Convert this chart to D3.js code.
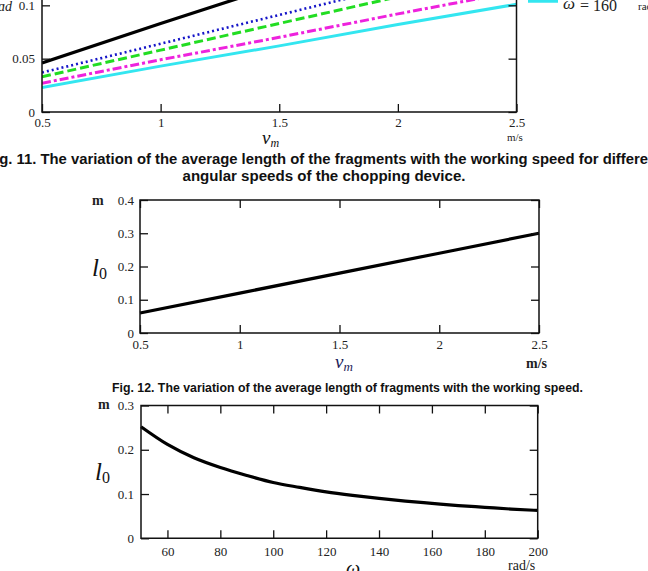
<!DOCTYPE html>
<html>
<head>
<meta charset="utf-8">
<script src="https://cdn.jsdelivr.net/npm/d3@7"></script>
<style>
body { margin: 0; background: #fff; }
svg { display: block; }
.tick text { font-family: "Liberation Serif", serif; font-size: 13px; fill: #222; }
</style>
</head>
<body>
<svg width="648" height="571"></svg>
<script>
// ---- Fig. 11 (top, cropped): average length vs working speed, several angular speeds
const fig11Vm = [0.5, 1, 1.5, 2, 2.5];
const fig11Black = [0.046, 0.083, 0.119, 0.155, 0.191];
const fig11Blue = [0.037, 0.064, 0.091, 0.118, 0.145];
const fig11Green = [0.033, 0.058, 0.083, 0.108, 0.133];
const fig11Magenta = [0.027, 0.049, 0.070, 0.092, 0.113];
const fig11Cyan = [0.023, 0.043, 0.062, 0.082, 0.101];
const fig11XTicks = [0.5, 1, 1.5, 2, 2.5];
const fig11YTicks = [0, 0.05, 0.1];

// ---- Fig. 12: average length vs working speed
const fig12Vm = [0.5, 1, 1.5, 2, 2.5];
const fig12L0 = [0.06, 0.12, 0.18, 0.24, 0.30];
const fig12XTicks = [0.5, 1, 1.5, 2, 2.5];
const fig12YTicks = [0, 0.1, 0.2, 0.3, 0.4];

// ---- Fig. 13: average length vs angular speed
const fig13Omega = [50, 60, 70, 80, 90, 100, 110, 120, 130, 140, 150, 160, 170, 180, 190, 200];
const fig13L0 = [0.252, 0.212, 0.182, 0.160, 0.142, 0.126, 0.115, 0.105, 0.097, 0.090, 0.084, 0.079, 0.074, 0.070, 0.066, 0.063];
const fig13XTicks = [60, 80, 100, 120, 140, 160, 180, 200];
const fig13YTicks = [0, 0.1, 0.2, 0.3];

svg = d3.select("svg");
const serif = '"Liberation Serif", serif';
const sans = '"Liberation Sans", Arial, sans-serif';
const fmt = d => String(d);

// draws the MathCad style box: axes on all sides, ticks pointing inwards
function frame(g, x, y, xt, yt, opts) {
    const [x0, x1] = x.range();
    const [yb, yt0] = y.range();
    g.append("g")
        .attr("transform", "translate(0," + yb + ")")
        .call(d3.axisBottom(x).tickValues(xt).tickFormat(fmt).tickSize(-8).tickSizeOuter(0).tickPadding(opts.xpad));
    g.append("g")
        .attr("transform", "translate(" + x0 + ",0)")
        .call(d3.axisLeft(y).tickValues(yt).tickFormat(fmt).tickSize(-8).tickSizeOuter(0).tickPadding(opts.ypad));
    g.append("g")
        .attr("transform", "translate(" + x1 + ",0)")
        .call(d3.axisRight(y).tickValues(yt).tickFormat("").tickSize(-8).tickSizeOuter(0));
    if (opts.top) {
        g.append("g")
            .attr("transform", "translate(0," + yt0 + ")")
            .call(d3.axisTop(x).tickValues(xt).tickFormat("").tickSize(-8).tickSizeOuter(0));
    }
    g.selectAll(".domain").remove();
    g.selectAll(".tick line").attr("stroke", "#111").attr("stroke-width", 1.3);
    // the box itself
    g.append("path")
        .attr("fill", "none")
        .attr("stroke", "#111")
        .attr("stroke-width", 1.5)
        .attr("d", opts.top
            ? "M" + x0 + "," + yt0 + "H" + x1 + "V" + yb + "H" + x0 + "Z"
            : "M" + x0 + "," + yt0 + "V" + yb + "H" + x1 + "V" + yt0);
}

// ================= Fig. 11 =================
x1s = d3.scaleLinear().domain([0.5, 2.5]).range([42, 516.5]);
y1s = d3.scaleLinear().domain([0, 0.15]).range([112, -48]);
g1 = svg.append("g");
g1.append("clipPath").attr("id", "clip1")
    .append("rect").attr("x", 42).attr("y", -60).attr("width", 474.5).attr("height", 172);

const fig11Series = [
    {v: fig11Black, color: "#000", dash: null, w: 3.2},
    {v: fig11Blue, color: "#1515c8", dash: "2,3", w: 2.6},
    {v: fig11Green, color: "#22dd22", dash: "9,4", w: 3},
    {v: fig11Magenta, color: "#ee22dd", dash: "9,3,3,3", w: 3},
    {v: fig11Cyan, color: "#33e6f0", dash: null, w: 3}
];
line1 = d3.line().x(d => x1s(d[0])).y(d => y1s(d[1]));
fig11Series.forEach(s => {
    g1.append("path")
        .datum(fig11Vm.map((v, i) => [v, s.v[i]]))
        .attr("clip-path", "url(#clip1)")
        .attr("fill", "none")
        .attr("stroke", s.color)
        .attr("stroke-width", s.w)
        .attr("stroke-dasharray", s.dash)
        .attr("d", line1);
});
frame(g1, x1s, y1s, fig11XTicks, fig11YTicks, {xpad: 6, ypad: 7, top: false});

// legend entry (only the last one is visible, cut by the page top)
svg.append("line").attr("x1", 528).attr("x2", 558).attr("y1", 1).attr("y2", 1)
    .attr("stroke", "#33e6f0").attr("stroke-width", 3.5);
svg.append("text").attr("x", 563).attr("y", 9).attr("font-family", serif).attr("font-style", "italic")
    .attr("font-size", 17).attr("fill", "#222").text("ω");
svg.append("text").attr("x", 580).attr("y", 11).attr("font-family", serif)
    .attr("font-size", 16).attr("fill", "#222").text("= 160");
svg.append("text").attr("x", 638).attr("y", 10).attr("font-family", serif)
    .attr("font-size", 11).attr("fill", "#222").text("rad/s");
// cut-off y label at the left
svg.append("text").attr("x", 12).attr("y", 11).attr("text-anchor", "end").attr("font-family", serif)
    .attr("font-style", "italic").attr("font-size", 14).attr("fill", "#222").text("ɑd");
// x label
svg.append("text").attr("x", 262).attr("y", 144).attr("font-family", serif).attr("font-style", "italic")
    .attr("font-size", 19).attr("fill", "#111").text("v")
    .append("tspan").attr("font-size", 12).attr("dy", 3).text("m");
svg.append("text").attr("x", 507).attr("y", 141).attr("font-family", serif)
    .attr("font-size", 11).attr("fill", "#222").text("m/s");

// caption
svg.append("text").attr("x", 324).attr("y", 164).attr("text-anchor", "middle")
    .attr("font-family", sans).attr("font-weight", "bold").attr("font-size", 14).attr("fill", "#111")
    .attr("textLength", 676).attr("lengthAdjust", "spacingAndGlyphs")
    .text("Fig. 11. The variation of the average length of the fragments with the working speed for different");
svg.append("text").attr("x", 324).attr("y", 181).attr("text-anchor", "middle")
    .attr("font-family", sans).attr("font-weight", "bold").attr("font-size", 14).attr("fill", "#111")
    .attr("textLength", 283).attr("lengthAdjust", "spacingAndGlyphs")
    .text("angular speeds of the chopping device.");

// ================= Fig. 12 =================
x2s = d3.scaleLinear().domain([0.5, 2.5]).range([140, 539]);
y2s = d3.scaleLinear().domain([0, 0.4]).range([333, 200]);
g2 = svg.append("g");
g2.append("path")
    .datum(fig12Vm.map((v, i) => [v, fig12L0[i]]))
    .attr("fill", "none").attr("stroke", "#000").attr("stroke-width", 3.2)
    .attr("d", d3.line().x(d => x2s(d[0])).y(d => y2s(d[1])));
frame(g2, x2s, y2s, fig12XTicks, fig12YTicks, {xpad: 7, ypad: 6, top: true});

svg.append("text").attr("x", 92).attr("y", 205).attr("font-family", serif).attr("font-weight", "bold")
    .attr("font-size", 14).attr("fill", "#222").text("m");
svg.append("text").attr("x", 92).attr("y", 276).attr("font-family", serif).attr("font-style", "italic")
    .attr("font-size", 25).attr("fill", "#111").text("l")
    .append("tspan").attr("font-style", "normal").attr("font-size", 16).attr("dy", 3).text("0");
svg.append("text").attr("x", 335).attr("y", 368).attr("font-family", serif).attr("font-style", "italic")
    .attr("font-size", 19).attr("fill", "#1c1c5a").text("v")
    .append("tspan").attr("font-size", 13).attr("dy", 3).text("m");
svg.append("text").attr("x", 526).attr("y", 368).attr("font-family", serif).attr("font-weight", "bold")
    .attr("font-size", 14).attr("fill", "#222").text("m/s");

svg.append("text").attr("x", 112).attr("y", 392)
    .attr("font-family", sans).attr("font-weight", "bold").attr("font-size", 13).attr("fill", "#111")
    .attr("textLength", 471).attr("lengthAdjust", "spacingAndGlyphs")
    .text("Fig. 12. The variation of the average length of fragments with the working speed.");

// ================= Fig. 13 =================
x3s = d3.scaleLinear().domain([50, 200]).range([141, 537.7]);
y3s = d3.scaleLinear().domain([0, 0.3]).range([538.3, 405.5]);
g3 = svg.append("g");
g3.append("path")
    .datum(fig13Omega.map((w, i) => [w, fig13L0[i]]))
    .attr("fill", "none").attr("stroke", "#000").attr("stroke-width", 3.2)
    .attr("d", d3.line().curve(d3.curveMonotoneX).x(d => x3s(d[0])).y(d => y3s(d[1])));
frame(g3, x3s, y3s, fig13XTicks, fig13YTicks, {xpad: 8, ypad: 7, top: true});

svg.append("text").attr("x", 98).attr("y", 409).attr("font-family", serif).attr("font-weight", "bold")
    .attr("font-size", 14).attr("fill", "#222").text("m");
svg.append("text").attr("x", 95).attr("y", 480).attr("font-family", serif).attr("font-style", "italic")
    .attr("font-size", 25).attr("fill", "#111").text("l")
    .append("tspan").attr("font-style", "normal").attr("font-size", 16).attr("dy", 3).text("0");
svg.append("text").attr("x", 346).attr("y", 575).attr("font-family", serif).attr("font-style", "italic")
    .attr("font-size", 20).attr("fill", "#111").text("ω");
svg.append("text").attr("x", 508).attr("y", 570).attr("font-family", serif)
    .attr("font-size", 14).attr("fill", "#222").text("rad/s");
</script>
</body>
</html>
